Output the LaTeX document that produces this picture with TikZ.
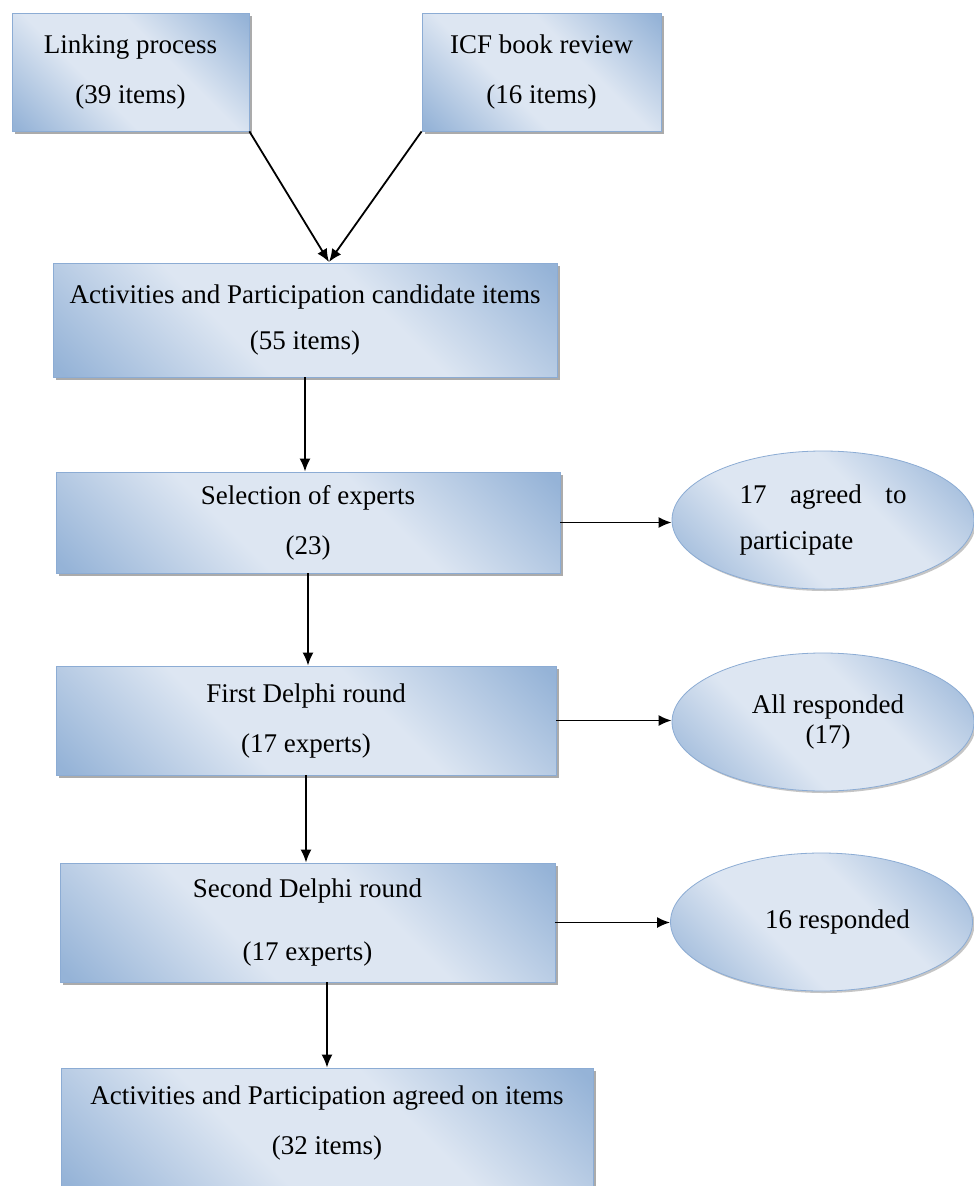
\documentclass[tikz,border=0pt]{standalone}
\usepackage{fontspec}
\setmainfont{Liberation Serif}
\usetikzlibrary{arrows.meta,shapes.geometric,shadows}

\definecolor{dk}{RGB}{149,179,215}
\definecolor{lt}{RGB}{221,230,242}
\definecolor{bd}{RGB}{140,172,212}
\pgfdeclareverticalshading{wordblue}{100bp}{color(0bp)=(dk); color(16bp)=(dk); color(40bp)=(lt); color(60bp)=(lt); color(84bp)=(dk); color(100bp)=(dk)}

\tikzset{
  flowbox/.style={rectangle, draw=bd, line width=0.8pt, shading=wordblue, shading angle=-45,
    drop shadow={shadow xshift=3pt, shadow yshift=-3pt, fill=black!55, opacity=0.6},
    inner sep=0pt, align=center, font=\fontsize{27}{50}\selectfont},
  flowoval/.style={ellipse, draw=bd, line width=0.8pt, shading=wordblue, shading angle=-45,
    drop shadow={shadow xshift=2pt, shadow yshift=-2pt, fill=black!45, opacity=0.5},
    inner sep=0pt, minimum width=302pt, minimum height=138pt, align=center,
    font=\fontsize{27}{46}\selectfont},
  conn/.style={line width=1.8pt, -{Latex[length=13pt,width=11pt]}},
}

\begin{document}
\begin{tikzpicture}[x=1pt,y=-1pt]
\clip (0,0) rectangle (974,1186);
\fill[white] (0,0) rectangle (974,1186);

\node[flowbox, minimum width=237pt, minimum height=118pt] (link) at (130.5,72) {Linking process\\(39 items)};
\node[flowbox, minimum width=239pt, minimum height=118pt] (icf) at (541.5,72) {ICF book review\\(16 items)};
\node[flowbox, minimum width=504pt, minimum height=114pt] (cand) at (305,320) {Activities and Participation candidate items\\[-4pt](55 items)};
\node[flowbox, minimum width=504pt, minimum height=101pt] (sel) at (308,522.5) {Selection of experts\\(23)};
\node[flowbox, minimum width=500pt, minimum height=109pt] (first) at (306,720.5) {First Delphi round\\(17 experts)};
\node[flowbox, minimum width=495pt, minimum height=119pt] (second) at (307.5,922.5) {Second Delphi round\\[13pt](17 experts)};
\node[flowbox, minimum width=532pt, minimum height=124pt, text depth=20pt] (bot) at (327,1130) {Activities and Participation agreed on items\\(32 items)};

\node[flowoval] (e1) at (823,520) {\parbox{167pt}{17\hfill agreed\hfill to\\participate}};
\node[flowoval, font=\fontsize{27}{30}\selectfont] (e2) at (823,722) {\hspace*{10pt}All responded\\\hspace*{10pt}(17)};
\node[flowoval] (e3) at (821.5,922) {\hspace*{32pt}16 responded};

\coordinate (mtip) at (329,262);
\draw[conn] (link.south east) -- (mtip);
\draw[conn] (icf.south west) -- (mtip);
\draw[conn] (cand.south) -- (cand.south |- sel.north);
\draw[conn] (sel.south) -- (sel.south |- first.north);
\draw[conn] (first.south) -- (first.south |- second.north);
\draw[conn] (bot.north |- second.south) -- (bot.north);
\draw[conn] (sel.east) -- (sel.east -| e1.west);
\draw[conn] (first.east) -- (first.east -| e2.west);
\draw[conn] (second.east) -- (second.east -| e3.west);
\end{tikzpicture}
\end{document}
